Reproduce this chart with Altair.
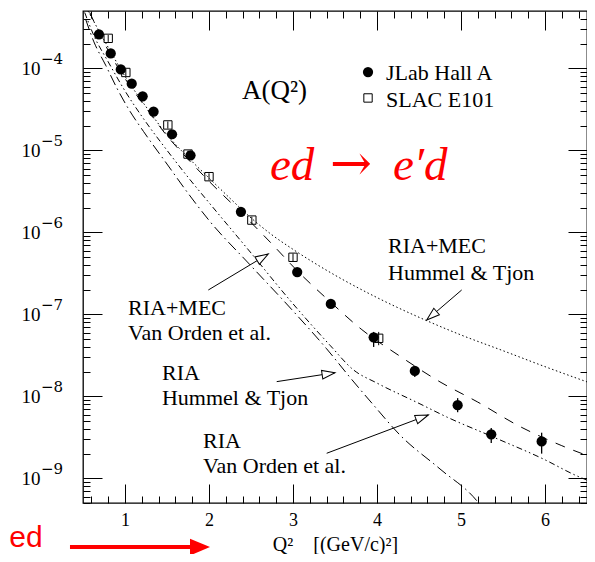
import math
import altair as alt
import pandas as pd

# ---------------- data ----------------
# JLab Hall A (filled circles)
jlab_q2 = [0.69, 0.83, 0.95, 1.08, 1.21, 1.34, 1.56, 1.78, 2.38, 3.05, 3.45, 3.96, 4.45, 4.96, 5.36, 5.96]
jlab_a = [2.60e-4, 1.52e-4, 9.7e-5, 6.5e-5, 4.56e-5, 2.96e-5, 1.57e-5, 8.7e-6, 1.78e-6,
          3.28e-7, 1.34e-7, 5.25e-8, 2.04e-8, 7.8e-9, 3.44e-9, 2.82e-9]
jlab_err_q2 = [3.96, 4.45, 4.96, 5.36, 5.96]
jlab_err_lo = [4.0e-8, 1.72e-8, 6.4e-9, 2.7e-9, 2.0e-9]
jlab_err_hi = [6.1e-8, 2.3e-8, 9.5e-9, 4.1e-9, 3.6e-9]

# SLAC E101 (open squares)
slac_q2 = [0.80, 1.01, 1.51, 1.75, 2.00, 2.51, 3.00, 4.02]
slac_a = [2.32e-4, 8.9e-5, 2.04e-5, 9.0e-6, 4.77e-6, 1.41e-6, 4.96e-7, 5.1e-8]
slac_lo = [2.1e-4, 8.0e-5, 1.84e-5, 8.1e-6, 4.3e-6, 1.27e-6, 4.45e-7, 4.2e-8]
slac_hi = [2.55e-4, 9.8e-5, 2.25e-5, 9.9e-6, 5.25e-6, 1.55e-6, 5.5e-7, 6.1e-8]

# theory curves
mec_ht_q2 = [0.56, 0.8, 1.0, 1.25, 1.5, 1.75, 2.0, 2.25, 2.5, 2.75, 3.0, 3.5, 4.0, 4.5, 5.0, 5.5, 6.0, 6.5]
mec_ht_a = [5.0e-4, 1.8e-4, 8.0e-5, 3.4e-5, 1.55e-5, 8.2e-6, 4.6e-6, 2.6e-6, 1.5e-6, 9.3e-7,
            6.2e-7, 3.0e-7, 1.6e-7, 9.2e-8, 5.6e-8, 3.6e-8, 2.3e-8, 1.5e-8]

mec_vo_q2 = [0.58, 0.8, 1.0, 1.25, 1.5, 1.75, 2.0, 2.38, 2.75, 3.05, 3.45, 3.82, 4.27, 4.75, 5.2, 5.68, 6.2, 6.5]
mec_vo_a = [4.8e-4, 1.65e-4, 7.5e-5, 3.3e-5, 1.5e-5, 7.8e-6, 4.2e-6, 1.75e-6, 7.2e-7, 3.4e-7,
            1.4e-7, 6.5e-8, 3.1e-8, 1.5e-8, 8.5e-9, 4.4e-9, 2.5e-9, 1.9e-9]

ria_ht_q2 = [0.52, 0.63, 0.8, 1.0, 1.25, 1.5, 1.75, 2.0, 2.5, 2.96, 3.44, 3.72, 4.0, 4.5, 4.83, 5.38, 5.98, 6.38, 6.5]
ria_ht_a = [4.8e-4, 2.5e-4, 1.2e-4, 5.3e-5, 2.2e-5, 1.0e-5, 4.7e-6, 2.3e-6, 5.6e-7, 1.5e-7,
            4.2e-8, 2.1e-8, 1.45e-8, 8.2e-9, 5.6e-9, 3.2e-9, 1.72e-9, 1.07e-9, 9.5e-10]

ria_vo_q2 = [0.53, 0.63, 0.77, 0.905, 1.05, 1.22, 1.5, 1.75, 2.0, 2.5, 3.0, 3.4, 3.7, 3.96, 4.27, 4.75, 5.19, 5.26]
ria_vo_a = [4.0e-4, 2.1e-4, 1.09e-4, 5.7e-5, 3.1e-5, 1.7e-5, 6.8e-6, 3.0e-6, 1.4e-6, 3.9e-7,
            1.1e-7, 3.8e-8, 1.6e-8, 7.8e-9, 3.4e-9, 1.3e-9, 5.3e-10, 4.3e-10]

# axis ticks and tick labels
x_major = [1, 2, 3, 4, 5, 6]
x_minor = [round(k / 5, 1) for k in range(3, 33) if k % 5 != 0]
y_major = [1e-9, 1e-8, 1e-7, 1e-6, 1e-5, 1e-4]
y_minor = [m * 10.0 ** e for e in range(-10, -3) for m in range(2, 10) if 5e-10 <= m * 10.0 ** e < 5e-4]
y_exponents = ["−9", "−8", "−7", "−6", "−5", "−4"]
y_exponent_x = [0.0] * 6

# annotations (data coordinates)
txt_main = ["A(Q²)"]
txt_main_x = [2.393]
txt_main_y = [4.23e-5]

legend_txt = ["JLab Hall A", "SLAC E101"]
legend_txt_x = [4.107, 4.107]
legend_txt_y = [7.2e-5, 3.4e-5]
legend_sym_x = [3.893, 3.893]
legend_sym_y = [9.0e-5, 4.35e-5]

model_txt = ["RIA+MEC", "Hummel & Tjon", "RIA+MEC", "Van Orden et al.", "RIA", "Hummel & Tjon", "RIA", "Van Orden et al."]
model_txt_x = [4.131, 4.131, 1.036, 1.036, 1.440, 1.440, 1.929, 1.929]
model_txt_y = [5.6e-7, 2.6e-7, 9.8e-8, 4.87e-8, 1.58e-8, 7.8e-9, 2.36e-9, 1.17e-9]

arrow_x0 = [5.008, 1.992, 2.806, 3.401]
arrow_y0 = [1.98e-7, 1.98e-7, 1.51e-8, 2.02e-9]
arrow_x1 = [4.592, 2.706, 3.50, 4.611]
arrow_y1 = [8.53e-8, 5.45e-7, 1.94e-8, 5.92e-9]

reaction_parts = ["ed", "e′d"]
reaction_x = [2.726, 4.19]
reaction_arrow = ["→"]
reaction_arrow_x = [3.44]
reaction_y = 4.35e-6

red_arrow_x0 = [0.345]
red_arrow_x1 = [1.774]
red_arrow_tip = [2.012]
red_arrow_y = [1.45e-10]
red_word = ["ed"]
red_word_x = [0.02]
red_word_y = [1.45e-10]

# ---------------- chart ----------------
W, H = 504, 492
XD = [0.5, 6.5]
YD = [5e-10, 5e-4]
x_scale = alt.Scale(domain=XD, nice=False, zero=False)
y_scale = alt.Scale(type="log", domain=YD, nice=False)
SERIF = "Liberation Serif"
NB = "\u00a0"


def to_px(xv, yv):
    px = (xv - XD[0]) / (XD[1] - XD[0]) * W
    py = (math.log10(YD[1]) - math.log10(yv)) / (math.log10(YD[1]) - math.log10(YD[0])) * H
    return px, py


def X(field):
    return alt.X(field, type="quantitative", scale=x_scale, axis=None)


def Y(field):
    return alt.Y(field, type="quantitative", scale=y_scale, axis=None)


lab_x = alt.Axis(orient="bottom", values=x_major, ticks=False, domain=False, grid=False,
                 labelFont=SERIF, labelFontSize=18, labelColor="black", labelPadding=8,
                 title="Q²" + NB * 4 + "[(GeV/c)²]", titleFont=SERIF, titleFontSize=20,
                 titleFontWeight="normal", titleColor="black", titleBaseline="alphabetic",
                 titleY=47)
lab_y = alt.Axis(orient="left", values=y_major, ticks=False, domain=False, grid=False,
                 labelFont=SERIF, labelFontSize=19, labelColor="black", labelPadding=43,
                 labelExpr="'10'", title=None)


def tick_axis(orient, values, size):
    return alt.Axis(orient=orient, values=values, labels=False, domain=False, grid=False,
                    ticks=True, tickSize={"expr": str(-size)}, tickColor="black",
                    tickWidth=1, title=None)


x_axes = [lab_x, tick_axis("bottom", x_major, 19), tick_axis("bottom", x_minor, 7),
          tick_axis("top", x_major, 19), tick_axis("top", x_minor, 7)]
y_axes = [lab_y, tick_axis("left", y_major, 19), tick_axis("left", y_minor, 7),
          tick_axis("right", y_major, 19), tick_axis("right", y_minor, 7)]

jlab_df = pd.DataFrame({"q2": jlab_q2, "a": jlab_a})
layers = []
for xa, ya in zip(x_axes, y_axes):
    layers.append(alt.Chart(jlab_df).mark_point(opacity=0).encode(
        x=alt.X("q2:Q", scale=x_scale, axis=xa),
        y=alt.Y("a:Q", scale=y_scale, axis=ya)))

# exponents of the y tick labels (10^n)
layers.append(alt.Chart(pd.DataFrame({"x": y_exponent_x, "y": y_major, "t": y_exponents})).mark_text(
    align="left", baseline="middle", dy=-9, font="DejaVu Serif", fontSize=15, color="black").encode(
    x=X("x"), y=Y("y"), text="t:N"))


def curve(xv, yv, dash):
    df = pd.DataFrame({"x": xv, "y": yv})
    return alt.Chart(df).mark_line(color="black", strokeWidth=1, strokeDash=dash, clip=True,
                                   interpolate="monotone").encode(x=X("x"), y=Y("y"))


layers += [
    curve(mec_ht_q2, mec_ht_a, [1.5, 2.5]),
    curve(mec_vo_q2, mec_vo_a, [10, 9]),
    curve(ria_ht_q2, ria_ht_a, [6, 3, 1.5, 3, 1.5, 3]),
    curve(ria_vo_q2, ria_vo_a, [11, 4, 1.5, 4]),
]

# data points
slac_df = pd.DataFrame({"x": slac_q2, "y": slac_a, "lo": slac_lo, "hi": slac_hi})
jerr_df = pd.DataFrame({"x": jlab_err_q2, "lo": jlab_err_lo, "hi": jlab_err_hi})
layers.append(alt.Chart(slac_df).mark_rule(color="black", strokeWidth=1).encode(
    x=X("x"), y=Y("lo"), y2="hi"))
layers.append(alt.Chart(slac_df).mark_point(shape="square", filled=False, size=70, color="black",
                                            strokeWidth=1, opacity=1).encode(x=X("x"), y=Y("y")))
layers.append(alt.Chart(jerr_df).mark_rule(color="black", strokeWidth=1.3).encode(
    x=X("x"), y=Y("lo"), y2="hi"))
layers.append(alt.Chart(pd.DataFrame({"x": jlab_q2, "y": jlab_a})).mark_point(
    shape="circle", filled=True, size=105, color="black", opacity=1).encode(x=X("x"), y=Y("y")))

# legend
leg_df = pd.DataFrame({"x": legend_sym_x, "y": legend_sym_y})
layers.append(alt.Chart(leg_df.iloc[[0]]).mark_point(shape="circle", filled=True, size=105,
                                                     color="black", opacity=1).encode(x=X("x"), y=Y("y")))
layers.append(alt.Chart(leg_df.iloc[[1]]).mark_point(shape="square", filled=False, size=70,
                                                     color="black", strokeWidth=1, opacity=1).encode(x=X("x"), y=Y("y")))
layers.append(alt.Chart(pd.DataFrame({"x": legend_txt_x, "y": legend_txt_y, "t": legend_txt})).mark_text(
    align="left", baseline="alphabetic", font=SERIF, fontSize=22, color="black").encode(
    x=X("x"), y=Y("y"), text="t:N"))

# main labels
layers.append(alt.Chart(pd.DataFrame({"x": txt_main_x, "y": txt_main_y, "t": txt_main})).mark_text(
    align="left", baseline="alphabetic", font=SERIF, fontSize=27, color="black").encode(
    x=X("x"), y=Y("y"), text="t:N"))
layers.append(alt.Chart(pd.DataFrame({"x": model_txt_x, "y": model_txt_y, "t": model_txt})).mark_text(
    align="left", baseline="alphabetic", font=SERIF, fontSize=22, color="black").encode(
    x=X("x"), y=Y("y"), text="t:N"))
layers.append(alt.Chart(pd.DataFrame({"x": reaction_x, "y": [reaction_y] * 2, "t": reaction_parts})).mark_text(
    align="left", baseline="alphabetic", font=SERIF, fontStyle="italic", fontSize=47,
    color="#ff0000").encode(x=X("x"), y=Y("y"), text="t:N"))
layers.append(alt.Chart(pd.DataFrame({"x": reaction_arrow_x, "y": [reaction_y], "t": reaction_arrow})).mark_text(
    align="left", baseline="alphabetic", font="DejaVu Serif", fontSize=50,
    color="#ff0000").encode(x=X("x"), y=Y("y"), text="t:N"))

# pointer arrows
angles = []
for x0, y0, x1, y1 in zip(arrow_x0, arrow_y0, arrow_x1, arrow_y1):
    p0 = to_px(x0, y0)
    p1 = to_px(x1, y1)
    ang = math.degrees(math.atan2(p1[0] - p0[0], -(p1[1] - p0[1]))) % 360
    angles.append(ang)
arr_df = pd.DataFrame({"x0": arrow_x0, "y0": arrow_y0, "x1": arrow_x1, "y1": arrow_y1, "ang": angles})
layers.append(alt.Chart(arr_df).mark_rule(color="black", strokeWidth=1).encode(
    x=X("x0"), y=Y("y0"), x2="x1", y2="y1"))
layers.append(alt.Chart(arr_df).mark_point(shape="M0,0L-0.33,1L0.33,1Z", size=676, filled=True,
                                           fill="white", stroke="black", strokeWidth=1,
                                           opacity=1, fillOpacity=1).encode(
    x=X("x1"), y=Y("y1"), angle=alt.Angle("ang:Q", scale=None)))

# red annotation outside the frame
red_df = pd.DataFrame({"x0": red_arrow_x0, "x1": red_arrow_x1, "tip": red_arrow_tip, "y": red_arrow_y})
layers.append(alt.Chart(red_df).mark_rule(color="#ff0000", strokeWidth=4).encode(
    x=X("x0"), x2="x1", y=Y("y")))
layers.append(alt.Chart(red_df).mark_point(shape="M0,0L-1,-0.42L-1,0.42Z", size=1600, filled=True,
                                           color="#ff0000", opacity=1).encode(x=X("tip"), y=Y("y")))
layers.append(alt.Chart(pd.DataFrame({"x": red_word_x, "y": red_word_y, "t": red_word})).mark_text(
    align="right", baseline="alphabetic", font="Liberation Sans", fontSize=30,
    color="#ff0000").encode(x=X("x"), y=Y("y"), text="t:N"))

chart = alt.layer(*layers).resolve_axis(x="independent", y="independent").properties(
    width=W, height=H,
    autosize=alt.AutoSizeParams(type="none"),
    padding={"left": 75, "top": 3, "right": 0, "bottom": 51},
).configure(background="white").configure_view(stroke="black", strokeWidth=1.3)

chart.save("out.html", embed_options={"renderer": "svg", "actions": False})
